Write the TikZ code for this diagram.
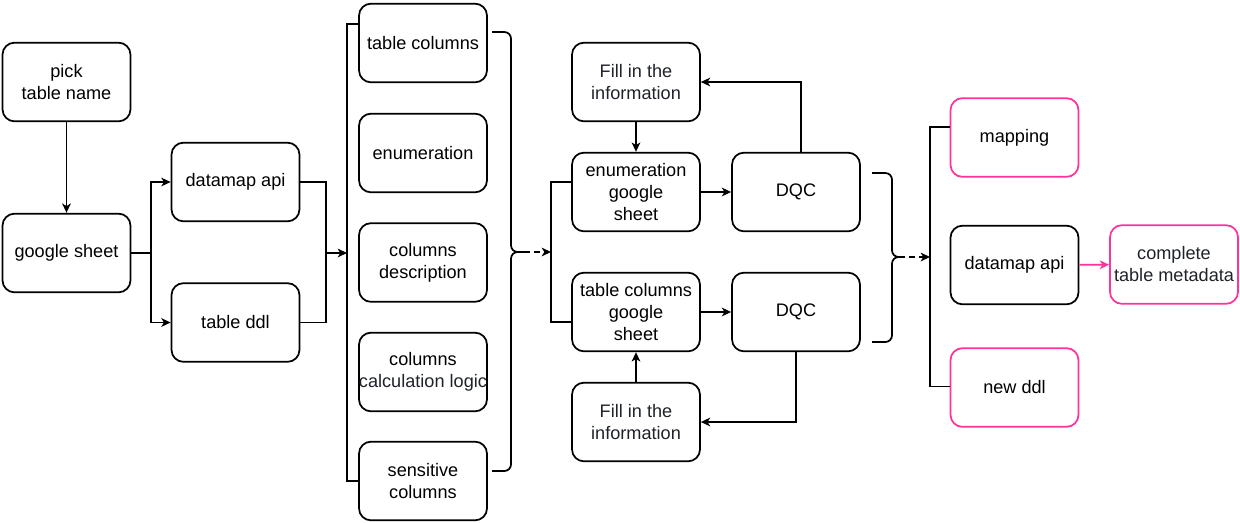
\documentclass[tikz,border=0pt]{standalone}
\usepackage{fontspec}
\setmainfont{Liberation Sans}
\usetikzlibrary{arrows.meta,calc}
\definecolor{mypink}{HTML}{FF3399}
\definecolor{txtgray}{HTML}{1F2329}
\begin{document}
\begin{tikzpicture}[x=0.75pt,y=-0.75pt,
  box/.style={draw,line width=1.3pt,rounded corners=9pt,minimum width=96pt,minimum height=59pt,inner sep=0pt,align=center,font=\fontsize{13.6}{16.5}\selectfont},
  pbox/.style={box,draw=mypink},
  ln/.style={line width=1.3pt},
  arr/.style={ln,-{Stealth[length=7pt,width=6.5pt,inset=2pt]}},
  parr/.style={arr,draw=mypink,-{Stealth[length=7pt,width=6.5pt,inset=2pt,fill=mypink]}},
  brace/.style={ln,rounded corners=5pt},
  dasharr/.style={arr,dash pattern=on 5pt off 3pt}]
\useasboundingbox (0,0) rectangle (1240,522);

% nodes
\node[box] (pick) at (66.5,82) {pick\\table name};
\node[box] (gs) at (66.5,253) {google sheet};
\node[box] (dm) at (235.5,182) {datamap api};
\node[box] (ddl) at (235.5,322.5) {table ddl};

\node[box] (tcol) at (423,43) {table columns};
\node[box] (enum) at (423,153) {enumeration};
\node[box] (cdesc) at (423,262.5) {columns\\description};
\node[box] (calc) at (423,372) {columns\\\textcolor{txtgray}{calculation logic}};
\node[box] (sens) at (423,481) {sensitive\\columns};

\node[box] (fill1) at (636,82) {\textcolor{txtgray}{Fill in the}\\\textcolor{txtgray}{information}};
\node[box] (egs) at (636,192) {enumeration\\google\\sheet};
\node[box] (tgs) at (636,312) {table columns\\google\\sheet};
\node[box] (fill2) at (636,422) {\textcolor{txtgray}{Fill in the}\\\textcolor{txtgray}{information}};
\node[box] (dqc1) at (796,192) {DQC};
\node[box] (dqc2) at (796,312) {DQC};

\node[pbox] (map) at (1014.5,137.5) {mapping};
\node[box] (dm2) at (1014.5,265) {datamap api};
\node[pbox] (nddl) at (1014.5,387.5) {new ddl};
\node[pbox] (comp) at (1174,264.5) {\textcolor{txtgray}{complete}\\\textcolor{txtgray}{table metadata}};

% coordinates
\coordinate (jg) at (151,253);
\coordinate (jl) at (326,253);
\coordinate (lbT) at (347,24);
\coordinate (lbB) at (347,481);
\coordinate (lbM) at (347,253);
\coordinate (b1T) at (492,32);
\coordinate (b1B) at (492,471);
\coordinate (b1tip) at (523,252);
\coordinate (mvT) at (551,182);
\coordinate (mvB) at (551,322);
\coordinate (mvM) at (551,252);
\coordinate (b2T) at (872,173);
\coordinate (b2B) at (872,342);
\coordinate (b2tip) at (898,257);
\coordinate (rbT) at (930,127);
\coordinate (rbB) at (930,386.5);
\coordinate (rbM) at (930,257);
\coordinate (q1) at (801,82);

% left part
\draw[arr] (pick) -- (gs);
\draw[ln] (gs.east) -- (jg);
\draw[arr] (jg) |- (dm.west);
\draw[arr] (jg) |- (ddl.west);
\draw[ln] (dm.east) -| (jl);
\draw[ln] (ddl.east) -| (jl);
\draw[arr] (jl) -- (lbM);

% left bracket
\draw[ln] (tcol.west |- lbT) -- (lbT) -- (lbB) -- (sens.west |- lbB);

% curly brace 1
\draw[brace] (b1T) -- ($(b1T)+(19,0)$) -- ($(b1tip)+(-12,0)$) -- (b1tip);
\draw[brace] (b1tip) -- ($(b1tip)+(-12,0)$) -- ($(b1B)+(19,0)$) -- (b1B);
\draw[dasharr] (b1tip) -- (mvM);

% middle bracket
\draw[ln] (egs.west |- mvT) -- (mvT) -- (mvB) -- (tgs.west |- mvB);

% middle flow
\draw[arr] (fill1) -- (egs);
\draw[arr] (fill2) -- (tgs);
\draw[arr] (egs) -- (dqc1);
\draw[arr] (tgs) -- (dqc2);
\draw[arr] (dqc1.north -| q1) |- (fill1.east);
\draw[arr] (dqc2.south) |- (fill2.east);

% curly brace 2
\draw[brace] (b2T) -- ($(b2T)+(20,0)$) -- ($(b2tip)+(-6,0)$) -- (b2tip);
\draw[brace] (b2tip) -- ($(b2tip)+(-6,0)$) -- ($(b2B)+(20,0)$) -- (b2B);
\draw[dasharr] (b2tip) -- (rbM);

% right bracket
\draw[ln] (map.west |- rbT) -- (rbT) -- (rbB) -- (nddl.west |- rbB);

% final
\draw[parr] (dm2) -- (comp);
\end{tikzpicture}
\end{document}
